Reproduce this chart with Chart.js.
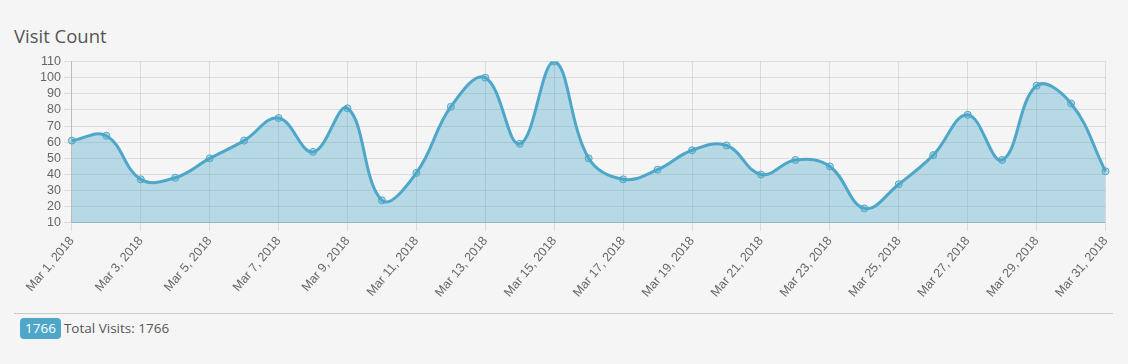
<!DOCTYPE html>
<html>
<head>
<meta charset="utf-8">
<script src="https://cdn.jsdelivr.net/npm/chart.js@4/dist/chart.umd.min.js"></script>
<style>
  html, body { margin: 0; padding: 0; background: #f5f5f5; }
  body { width: 1128px; height: 364px; position: relative; overflow: hidden; font-family: "Open Sans", sans-serif; }
  .title { position: absolute; left: 14px; top: 23px; font-size: 18.5px; color: #555; }
  .chart-wrap { position: absolute; left: 14px; top: 51px; width: 1106px; height: 252px; }
  hr { position: absolute; left: 14px; top: 313px; width: 1099px; margin: 0; border: 0; border-top: 1px solid #ccc; }
  .footer { position: absolute; left: 20px; top: 318px; font-size: 13.5px; color: #555; }
  .badge { display: inline-block; background: #4ea7c8; color: #fff; border-radius: 4px; padding: 1px 5px 2px; margin-right: 3px; }
</style>
</head>
<body>
<div class="title">Visit Count</div>
<div class="chart-wrap"><canvas id="visits"></canvas></div>
<hr>
<div class="footer"><span class="badge">1766</span>Total Visits: 1766</div>
<script>
// daily visit counts, March 2018
const days = [];
for (let d = 1; d <= 31; d++) days.push('Mar ' + d + ', 2018');
const visits = [61, 64, 37, 38, 50, 61, 75, 54, 81, 24, 41, 82, 100, 59, 110, 50,
  37, 43, 55, 58, 40, 49, 45, 19, 34, 52, 77, 49, 95, 84, 42];
const yTicks = { min: 10, max: 110, step: 10 };

const LINE = '#4ea7c8';
const TICK_FONT = { family: "'Liberation Sans', Arial, sans-serif", size: 12.5 };

new Chart(document.getElementById('visits').getContext('2d'), {
  type: 'line',
  data: {
    labels: days,
    datasets: [{
      label: 'Visits',
      data: visits,
      borderColor: LINE,
      backgroundColor: 'rgba(75,165,200,0.37)',
      fill: true,
      tension: 0.4,
      borderWidth: 3,
      pointRadius: 3.5,
      pointBackgroundColor: 'rgba(75,165,200,0.35)',
      pointBorderColor: LINE,
      pointBorderWidth: 1
    }]
  },
  options: {
    responsive: true,
    maintainAspectRatio: false,
    animation: false,
    layout: { padding: { left: 23 } },
    plugins: { legend: { display: false }, tooltip: { enabled: false } },
    scales: {
      x: {
        ticks: {
          color: '#666', font: TICK_FONT,
          maxRotation: 50, minRotation: 50, autoSkip: true, autoSkipPadding: 20
        },
        grid: { color: 'rgba(0,0,0,0.1)', tickLength: 8 },
        border: { color: 'rgba(0,0,0,0.15)' }
      },
      y: {
        min: yTicks.min, max: yTicks.max,
        ticks: { stepSize: yTicks.step, autoSkip: false, color: '#666', font: TICK_FONT },
        grid: { color: 'rgba(0,0,0,0.1)', tickLength: 8 },
        border: { color: 'rgba(0,0,0,0.15)' }
      }
    }
  }
});
</script>
</body>
</html>
